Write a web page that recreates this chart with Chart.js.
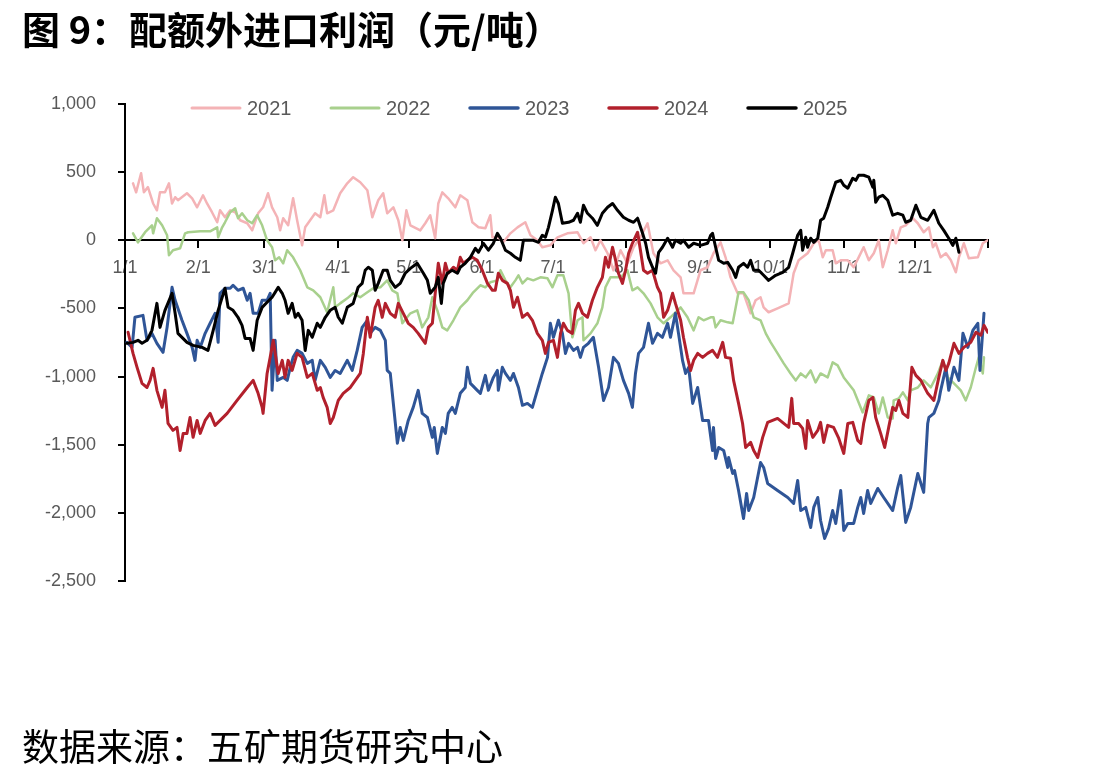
<!DOCTYPE html>
<html>
<head>
<meta charset="utf-8">
<script src="https://cdn.jsdelivr.net/npm/chart.js@4/dist/chart.umd.min.js"></script>
<style>
  body { margin: 0; background: #fff; }
  #wrap { position: relative; width: 1108px; height: 773px; }
  #title { position: absolute; left: 22px; top: 7px; font: bold 38px "Noto Sans CJK SC", sans-serif; line-height: 42px; color: #000; white-space: nowrap; }
  #source { position: absolute; left: 22px; top: 724px; font: 37px "Noto Sans CJK SC", sans-serif; line-height: 42px; color: #000; white-space: nowrap; }
  canvas { position: absolute; left: 0; top: 0; }
</style>
</head>
<body>
<div id="wrap">
  <canvas id="profitChart" width="1108" height="773"></canvas>
  <div id="title">图 9：配额外进口利润（元/吨）</div>
  <div id="source">数据来源：五矿期货研究中心</div>
</div>
<script>
// 配额外进口利润，横轴为一年中的天数（1/1 = 0）

const monthDays = [0, 31, 59, 90, 120, 151, 181, 212, 243, 273, 304, 334, 365];
const monthLabels = ['1/1', '2/1', '3/1', '4/1', '5/1', '6/1', '7/1', '8/1', '9/1', '10/1', '11/1', '12/1', ''];
const yearLabels = ['2021', '2022', '2023', '2024', '2025'];

const days2021 = [3.4,4.7,6.8,8.0,9.7,11.9,13.5,14.8,16.9,18.6,19.9,21.2,22.4,26.2,28.4,30.5,33.0,34.7,36.8,39.0,40.2,42.3,44.5,46.6,48.7,51.7,53.8,56.3,58.4,60.5,62.2,64.4,65.6,66.9,69.0,71.1,72.8,74.9,76.2,78.3,80.4,82.6,84.3,85.5,88.1,91.0,94.0,96.5,99.5,102.5,104.6,107.1,109.2,110.9,113.5,115.6,117.3,119.0,120.7,124.9,127.0,129.1,131.2,132.5,134.2,136.7,139.7,141.8,144.8,146.9,149.5,152.4,154.5,155.4,157.9,160.0,163.0,166.0,169.3,171.5,174.4,176.5,179.9,182.9,187.1,191.4,193.9,196.9,199.0,201.1,204.1,206.6,209.6,212.5,215.1,218.0,221.0,223.5,226.5,229.5,232.0,235.0,236.2,240.5,243.4,246.4,248.9,251.9,254.0,256.1,259.1,261.6,264.6,266.7,268.8,270.1,272.2,276.0,280.7,282.8,284.9,288.7,291.3,293.4,295.1,296.4,299.3,300.6,302.7,305.7,308.2,310.3,312.4,314.6,316.7,318.8,320.5,322.6,324.7,326.0,328.1,330.2,333.2,335.3,337.8,340.0,341.7,342.9,345.0,347.2,349.3,351.4,352.7,354.8,356.9,360.7,362.8,364.9];
const vals2021 = [418,352,492,352,390,270,220,352,352,418,270,316,294,345,308,242,330,270,206,132,220,169,220,206,147,125,73,198,242,345,242,169,73,162,110,308,147,-37,95,147,198,169,330,198,220,345,418,463,426,367,169,294,345,198,242,147,0,220,110,73,125,184,15,270,352,308,242,330,294,132,95,88,184,22,22,-15,51,95,132,37,0,-51,-37,22,51,59,-22,22,-73,0,-95,-220,-73,-169,-51,22,125,-95,-169,-147,-220,-272,-389,-389,-220,-198,-95,-15,-125,-272,-389,-389,-536,-440,-418,-492,-528,-499,-463,-242,-147,-95,-22,0,-125,-73,-73,-169,-147,-147,-198,-125,-51,-147,-95,0,-198,-73,73,-22,95,110,162,125,59,95,-51,-22,-125,-95,-147,-235,-125,-22,-132,-125,-22,0];

const days2022 = [3.4,5.5,8.5,11.4,11.9,13.5,15.7,17.8,18.6,20.3,23.3,25.4,26.7,31.8,36.0,39.0,39.4,41.1,42.3,44.5,46.6,47.8,49.5,51.7,53.8,55.9,58.0,60.1,62.2,63.5,65.2,66.9,68.6,71.1,74.1,77.1,79.6,82.6,85.5,88.1,88.9,91.0,94.0,96.5,99.5,102.5,105.0,108.0,110.9,113.0,115.2,117.3,120.7,123.6,125.7,128.3,130.0,132.1,134.2,136.3,138.9,141.8,144.8,147.3,150.3,152.4,154.5,157.5,158.8,160.9,163.0,165.1,166.4,168.1,170.2,172.7,175.7,178.7,180.8,182.9,185.4,187.6,189.2,191.4,193.5,193.9,196.9,199.8,201.9,203.2,205.3,209.6,212.5,214.6,216.8,219.3,222.3,225.2,227.8,230.7,235.0,237.9,240.5,242.6,244.7,247.7,248.9,249.8,251.9,254.9,257.0,258.3,259.5,261.6,263.8,265.9,268.8,271.0,273.1,276.0,278.6,281.5,283.7,285.8,287.9,290.0,292.1,294.2,297.2,299.3,301.4,304.0,308.2,312.0,314.6,316.7,318.8,320.5,322.6,324.7,325.1,327.3,329.0,331.1,332.3,335.3,337.8,340.8,343.8,345.9,348.0,350.6,353.5,355.6,357.7,359.9,361.1,362.8,363.3];
const vals2022 = [51,-15,59,110,51,162,110,37,-110,-73,-59,51,59,66,66,95,22,95,132,206,235,162,198,147,125,184,110,0,-51,-147,-125,-169,-73,-125,-220,-345,-367,-418,-528,-345,-492,-463,-426,-389,-418,-382,-352,-345,-294,-367,-389,-609,-536,-514,-639,-565,-418,-514,-639,-661,-587,-492,-440,-382,-330,-345,-308,-294,-220,-294,-345,-294,-257,-316,-279,-294,-272,-279,-345,-257,-257,-389,-712,-587,-565,-734,-683,-609,-492,-345,-272,-272,-220,-367,-345,-389,-463,-565,-609,-565,-492,-565,-661,-565,-587,-565,-565,-639,-587,-602,-609,-492,-382,-382,-440,-565,-587,-683,-749,-830,-903,-977,-1028,-977,-1006,-955,-1043,-977,-1006,-896,-918,-1006,-1101,-1263,-1138,-1153,-1270,-1153,-1300,-1307,-1175,-1160,-1116,-1175,-1101,-1080,-1028,-1080,-977,-881,-1006,-1050,-1101,-1175,-1080,-932,-859,-977,-859];

const days2023 = [0.8,3.0,4.2,7.6,9.3,11.4,13.5,16.1,17.8,19.9,21.2,24.1,26.2,28.4,29.6,30.5,31.8,33.9,36.0,38.1,39.4,40.2,42.3,44.5,45.7,47.8,50.0,51.7,52.9,54.2,56.3,58.0,60.1,61.4,62.2,63.5,64.4,66.9,68.6,69.9,71.1,72.8,74.9,77.1,79.2,80.4,82.6,84.7,86.8,88.9,91.0,94.0,96.1,98.2,100.3,102.5,103.7,105.8,108.0,110.1,110.9,112.2,115.2,116.4,117.7,119.8,121.9,124.0,125.7,127.9,130.0,130.8,132.1,134.2,135.5,136.7,138.4,139.7,141.8,143.9,144.8,146.1,149.0,150.3,152.4,153.7,155.8,157.5,157.9,159.6,160.9,163.0,164.3,166.4,168.1,170.2,172.3,174.4,176.5,178.7,179.9,181.2,183.3,185.0,186.3,187.6,189.7,191.4,192.6,193.9,196.0,198.1,200.3,202.4,204.5,206.6,208.7,210.8,213.0,214.6,215.9,217.2,219.3,221.4,223.1,225.2,227.3,229.5,230.7,232.8,234.1,235.8,237.1,238.4,240.1,242.2,244.3,246.8,248.5,248.9,249.8,251.1,253.2,254.9,255.3,257.0,257.8,259.5,261.6,262.9,263.8,265.9,268.8,270.1,271.8,276.0,280.3,282.8,284.5,285.8,287.9,290.0,291.3,293.0,294.2,295.9,297.6,299.3,300.6,302.7,304.0,305.7,308.2,309.9,311.2,312.4,314.1,315.4,318.4,320.9,324.7,326.8,328.1,330.2,332.3,335.3,337.8,339.5,340.0,342.1,344.2,345.0,347.2,348.4,350.6,352.7,354.4,356.5,358.6,360.7,361.6,363.3];
const vals2023 = [-749,-786,-565,-551,-734,-683,-756,-822,-639,-345,-440,-587,-683,-786,-881,-734,-786,-683,-609,-536,-749,-389,-352,-352,-330,-367,-352,-440,-389,-536,-536,-440,-440,-389,-1101,-734,-1028,-1006,-1028,-932,-859,-808,-830,-903,-881,-1028,-881,-932,-1006,-955,-977,-881,-955,-808,-639,-587,-683,-639,-661,-734,-955,-977,-1490,-1373,-1468,-1322,-1226,-1101,-1270,-1300,-1446,-1373,-1564,-1373,-1417,-1270,-1226,-1270,-1123,-1080,-932,-1050,-1101,-1123,-991,-1101,-1006,-955,-1101,-932,-977,-1028,-977,-1080,-1211,-1197,-1226,-1101,-977,-859,-609,-712,-587,-683,-830,-756,-808,-786,-859,-786,-756,-712,-932,-1175,-1080,-859,-903,-1028,-1123,-1226,-977,-830,-786,-609,-756,-683,-712,-609,-712,-536,-683,-881,-977,-932,-1197,-1080,-1322,-1322,-1542,-1373,-1601,-1520,-1542,-1667,-1594,-1711,-1689,-1836,-2041,-1858,-1983,-1887,-1630,-1667,-1784,-1836,-1887,-1931,-1762,-1983,-1960,-2107,-1960,-1887,-2056,-2188,-2114,-1983,-2078,-1836,-2129,-2078,-2078,-1960,-1887,-2004,-1836,-1931,-1821,-1887,-1983,-1814,-1726,-2070,-1960,-1711,-1850,-1344,-1300,-1270,-1175,-1101,-932,-1101,-932,-1028,-683,-786,-661,-609,-955,-536];

const days2024 = [1.3,3.4,5.1,7.2,9.3,10.6,11.9,13.5,15.7,16.9,18.2,20.3,22.0,23.3,24.6,26.2,27.5,28.8,30.5,31.8,33.9,36.0,38.1,43.2,47.4,51.7,54.2,56.3,58.0,58.4,60.1,61.4,62.7,64.8,66.5,67.7,69.0,70.7,72.8,74.9,77.1,79.2,81.3,82.6,83.8,85.5,86.8,88.1,90.2,92.3,95.3,97.4,99.5,100.8,102.5,103.7,105.8,107.1,108.8,110.1,112.2,114.3,115.6,117.7,119.8,121.9,124.0,127.0,128.3,130.0,131.2,132.5,134.2,135.5,136.7,138.9,140.6,141.8,143.1,144.8,146.9,149.0,151.1,153.3,155.4,156.6,157.9,159.6,161.7,163.0,164.3,166.0,168.1,170.2,172.3,174.4,176.5,177.8,179.1,181.2,182.9,184.2,185.4,187.1,189.2,190.5,191.8,193.5,195.6,197.7,199.8,201.9,203.2,204.5,206.2,207.5,208.7,210.4,211.7,213.0,214.6,216.8,218.0,219.3,221.0,223.1,225.2,226.5,227.8,229.5,231.6,232.8,235.0,236.2,237.9,239.2,240.5,242.2,244.3,246.4,248.5,250.6,252.8,254.0,256.1,257.4,259.5,261.2,262.5,264.6,265.9,267.6,269.7,271.8,276.0,280.7,282.0,282.8,284.9,286.6,287.9,288.7,290.9,293.0,294.2,295.5,297.2,299.7,301.9,304.0,305.7,307.8,309.9,311.2,312.4,314.6,316.3,317.5,319.6,321.3,323.0,324.7,326.0,327.3,329.0,331.1,332.8,334.5,336.6,339.5,342.1,344.2,345.9,347.2,348.4,350.6,352.7,354.8,357.7,359.9,362.0,363.3,364.9];
const vals2024 = [-675,-830,-932,-1050,-1080,-1028,-940,-1101,-1226,-1101,-1344,-1395,-1373,-1542,-1417,-1417,-1300,-1446,-1322,-1417,-1322,-1270,-1358,-1270,-1175,-1080,-1028,-1123,-1226,-1270,-977,-859,-734,-977,-881,-1006,-881,-955,-830,-859,-1006,-977,-1101,-1080,-1153,-1226,-1344,-1300,-1175,-1123,-1080,-1028,-977,-830,-565,-712,-492,-440,-565,-463,-536,-565,-463,-536,-609,-639,-683,-756,-639,-609,-389,-169,-316,-169,-242,-198,-220,-125,-169,-147,-125,-147,-220,-316,-367,-367,-242,-294,-316,-367,-492,-418,-565,-536,-587,-683,-734,-830,-749,-734,-859,-683,-609,-661,-683,-514,-463,-536,-565,-440,-345,-272,-125,-198,-51,-147,-242,-316,-220,-95,-22,59,-73,-220,-242,-220,-345,-389,-565,-514,-389,-463,-587,-712,-859,-955,-881,-830,-859,-830,-808,-859,-749,-859,-866,-1028,-1197,-1344,-1520,-1483,-1542,-1594,-1446,-1336,-1307,-1373,-1160,-1344,-1344,-1380,-1527,-1322,-1446,-1395,-1336,-1483,-1358,-1373,-1454,-1564,-1344,-1336,-1468,-1490,-1344,-1175,-1153,-1300,-1417,-1520,-1373,-1226,-1248,-1175,-1270,-1300,-932,-991,-1028,-1123,-1175,-1006,-881,-955,-903,-756,-830,-786,-749,-675,-697,-624,-675];

const days2025 = [0.8,3.4,5.5,7.2,9.3,11.4,13.5,14.8,16.9,19.9,21.2,22.4,26.2,28.8,32.6,35.1,37.3,39.4,41.1,42.3,43.6,45.7,47.8,49.5,50.8,52.9,54.2,55.9,58.0,60.1,62.2,63.5,64.8,66.5,67.7,69.0,70.7,72.0,73.2,74.9,76.2,77.5,79.2,81.3,82.6,84.7,86.8,88.9,90.2,91.9,94.0,96.5,98.6,100.3,101.6,102.9,104.6,105.8,107.1,109.2,110.9,112.2,114.3,116.4,118.5,120.7,123.6,126.2,127.9,129.1,131.2,132.5,133.8,134.6,136.3,138.4,140.6,141.8,143.9,146.1,148.2,149.5,151.6,153.7,155.8,157.5,158.8,160.9,163.0,165.1,167.2,168.5,170.6,172.7,174.9,176.5,177.8,179.1,180.8,182.0,183.3,185.0,187.6,189.7,191.4,192.6,193.9,195.6,197.7,199.8,201.9,204.1,206.2,208.3,210.8,213.0,215.1,216.8,218.9,220.2,221.4,223.1,224.4,225.7,227.3,229.5,231.6,232.8,235.0,236.2,238.4,240.5,243.4,246.4,247.7,248.5,249.8,251.1,253.2,254.9,257.0,258.3,259.5,261.6,263.3,264.6,265.9,268.0,270.1,272.2,275.2,278.2,280.7,282.4,284.5,285.8,286.6,287.9,288.7,290.0,291.3,293.0,294.2,295.5,297.2,298.5,300.6,302.7,304.0,305.7,307.8,309.1,310.3,312.4,314.6,316.3,316.7,317.5,318.8,320.5,322.6,324.7,326.8,329.0,330.2,332.3,334.5,336.6,339.5,342.1,344.2,346.3,348.4,350.1,351.4,352.7];
const vals2025 = [-756,-749,-734,-756,-734,-661,-463,-639,-514,-389,-536,-683,-749,-771,-786,-808,-661,-514,-418,-352,-492,-514,-565,-624,-720,-720,-808,-587,-492,-455,-418,-382,-345,-389,-440,-536,-463,-565,-536,-587,-808,-661,-712,-609,-639,-565,-514,-492,-565,-609,-492,-463,-345,-316,-220,-198,-220,-367,-316,-220,-220,-294,-345,-316,-242,-206,-169,-242,-294,-389,-345,-272,-463,-316,-242,-220,-242,-198,-169,-125,-59,-88,-22,-73,-22,51,15,-73,-95,-125,-147,0,0,0,-15,37,22,95,220,316,270,125,132,147,198,132,257,198,162,110,198,242,270,220,169,147,132,162,51,-22,-125,-198,-242,-88,-51,15,-51,0,-22,0,-51,-22,-37,-22,37,51,-51,-147,-169,-162,-220,-272,-198,-169,-198,-147,-220,-220,-257,-294,-257,-235,-198,-95,37,73,-73,22,-51,15,-15,15,147,162,242,316,426,440,404,382,455,440,477,477,463,389,440,279,316,330,294,184,198,184,132,147,257,169,147,220,125,73,15,-37,15,-88];

const seriesDays = [days2021, days2022, days2023, days2024, days2025];
const seriesVals = [vals2021, vals2022, vals2023, vals2024, vals2025];
const seriesColors = ['#f4b3b6', '#a8d08d', '#2f5597', '#b2202c', '#000000'];
const seriesWidths = [2.5, 2.5, 3, 3, 3];

// 把天数和数值组合成点
const datasets = yearLabels.map((label, i) => ({
  label: label,
  data: seriesDays[i].map((d, j) => ({ x: d, y: seriesVals[i][j] })),
  borderColor: seriesColors[i],
  backgroundColor: seriesColors[i],
  borderWidth: seriesWidths[i],
  pointRadius: 0,
  tension: 0,
  borderJoinStyle: 'round',
  borderCapStyle: 'round',
  fill: false,
  order: yearLabels.length - i // 2025 画在最上面
}));

// 图例画在绘图区内部顶端
const innerLegend = {
  id: 'innerLegend',
  afterDraw(chart) {
    const ctx = chart.ctx;
    const y = 108;
    ctx.save();
    ctx.font = '20px "Liberation Sans", Arial, sans-serif';
    ctx.textBaseline = 'middle';
    chart.data.datasets.forEach((ds, i) => {
      const x0 = 192 + i * 139;
      ctx.strokeStyle = ds.borderColor;
      ctx.lineWidth = ds.borderWidth + 0.5;
      ctx.lineCap = 'round';
      ctx.beginPath();
      ctx.moveTo(x0, y);
      ctx.lineTo(x0 + 48, y);
      ctx.stroke();
      ctx.fillStyle = '#595959';
      ctx.fillText(ds.label, x0 + 55, y + 1);
    });
    ctx.restore();
  }
};

const ctx = document.getElementById('profitChart').getContext('2d');
new Chart(ctx, {
  type: 'line',
  data: { datasets },
  plugins: [innerLegend],
  options: {
    responsive: false,
    animation: false,
    devicePixelRatio: 1,
    layout: { padding: { left: 0, top: 104, right: 120, bottom: 192 } },
    plugins: {
      legend: { display: false },
      tooltip: { enabled: false }
    },
    scales: {
      x: {
        type: 'linear',
        min: 0,
        max: 365,
        position: { y: 0 },
        afterBuildTicks: scale => { scale.ticks = monthDays.map(v => ({ value: v })); },
        ticks: {
          autoSkip: false,
          maxRotation: 0,
          padding: 10,
          color: '#595959',
          font: { size: 18, family: '"Liberation Sans", Arial, sans-serif' },
          callback: (v, i) => monthLabels[i]
        },
        grid: { display: true, drawOnChartArea: false, drawTicks: true, tickLength: 7, color: '#000', lineWidth: 2 },
        border: { display: true, color: '#000', width: 2 }
      },
      y: {
        min: -2500,
        max: 1000,
        afterFit: scale => { scale.width = 125; },
        ticks: {
          stepSize: 500,
          padding: 22,
          color: '#595959',
          font: { size: 18, family: '"Liberation Sans", Arial, sans-serif' },
          callback: v => v.toLocaleString('en-US')
        },
        grid: { display: true, drawOnChartArea: false, drawTicks: true, tickLength: 7, color: '#000', lineWidth: 2 },
        border: { display: true, color: '#000', width: 2 }
      }
    }
  }
});
</script>
</body>
</html>
